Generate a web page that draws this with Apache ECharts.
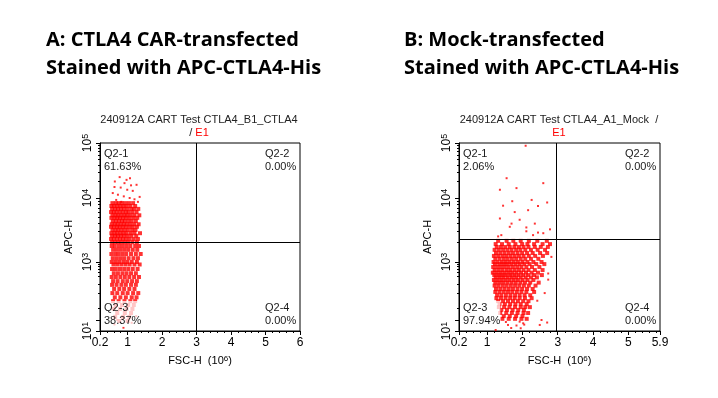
<!DOCTYPE html>
<html>
<head>
<meta charset="utf-8">
<script src="https://cdn.jsdelivr.net/npm/echarts@6/dist/echarts.min.js"></script>
<style>
html, body { margin: 0; padding: 0; background: #fff; }
#chart { width: 718px; height: 398px; }
</style>
</head>
<body>
<div id="chart"></div>
<script>
// FSC-H tick labels (10^6)
var fscTicksA = [0.2, 1, 2, 3, 4, 5, 6];
var fscTicksB = [0.2, 1, 2, 3, 4, 5, 5.9];
// APC-H decades (log10) : labelled ones and all major ticks
var apcLabelled = [1, 3, 4, 5];
var apcMajor = [1, 2, 3, 4, 5];

// quadrant percentages Q2-1, Q2-2, Q2-3, Q2-4
var quadA = ['61.63%', '0.00%', '38.37%', '0.00%'];
var quadB = ['2.06%', '0.00%', '97.94%', '0.00%'];

// quadrant gates [FSC-H, log10 APC-H]
var gateA = [2.99, 3.29];
var gateB = [2.97, 3.35];

// CTLA4 CAR cells, scattered ones [FSC-H, log10 APC-H]
var ctla4Sparse = [[0.77,4.38],[1.07,4.36],[0.97,4.33],[0.63,4.30],[0.91,4.27],[1.10,4.23],[1.26,4.24],
  [0.62,4.20],[0.80,4.19],[0.99,4.15],[1.15,4.13],[0.57,4.09],[0.72,4.06],[0.89,4.03],[1.06,4.00],
  [1.35,4.02],[1.20,3.98],[0.67,3.97],[0.82,3.94],[1.30,3.94],[0.70,2.0],[1.25,2.1],[0.62,1.6],
  [1.12,1.75],[0.88,1.3]];
// CTLA4 CAR cells by row [log10 APC-H, [FSC-H ...]]
var ctla4Rows = [
  [3.92, [0.56,0.66,0.74,0.83,0.93,1.04,1.16]],
  [3.875,[0.53,0.61,0.70,0.79,0.88,0.97,1.08,1.22]],
  [3.83, [0.55,0.64,0.72,0.81,0.90,1.00,1.11,1.19,1.31]],
  [3.78, [0.52,0.60,0.68,0.77,0.86,0.95,1.03,1.14,1.26]],
  [3.73, [0.56,0.65,0.73,0.82,0.91,0.99,1.09,1.20,1.34]],
  [3.69, [0.53,0.62,0.70,0.78,0.87,0.96,1.06,1.17,1.28]],
  [3.64, [0.57,0.66,0.75,0.84,0.92,1.02,1.12,1.24]],
  [3.59, [0.54,0.63,0.71,0.80,0.89,0.98,1.08,1.19,1.32]],
  [3.55, [0.52,0.60,0.69,0.77,0.86,0.95,1.05,1.15,1.27]],
  [3.50, [0.56,0.65,0.73,0.82,0.91,1.01,1.13,1.23]],
  [3.45, [0.53,0.62,0.70,0.79,0.88,0.97,1.09,1.20,1.36]],
  [3.41, [0.55,0.64,0.72,0.81,0.90,1.00,1.11,1.25]],
  [3.36, [0.52,0.60,0.69,0.78,0.87,0.96,1.06,1.18,1.30]],
  [3.31, [0.55,0.64,0.73,0.82,0.92,1.02,1.14,1.27]],
  [3.25, [0.54,0.63,0.75,0.86,0.97,1.08,1.22,1.33]],
  [3.19, [0.58,0.69,0.80,0.91,1.02,1.15,1.28]],
  [3.125,[0.53,0.64,0.74,0.85,0.96,1.10,1.24,1.38]],
  [3.06, [0.57,0.68,0.79,0.90,1.03,1.17,1.30]],
  [3.00, [0.54,0.65,0.76,0.88,0.99,1.12,1.27]],
  [2.945,[0.59,0.70,0.82,0.94,1.06,1.20,1.35]],
  [2.845,[0.55,0.66,0.78,0.90,1.02,1.15,1.29]],
  [2.765,[0.60,0.72,0.85,0.97,1.10,1.24]],
  [2.695,[0.54,0.66,0.79,0.92,1.05,1.19,1.33]],
  [2.64, [0.58,0.71,0.86,0.99,1.13,1.27]],
  [2.59, [0.55,0.68,0.82,0.95,1.10,1.24]],
  [2.535,[0.61,0.76,0.90,1.05,1.20]],
  [2.48, [0.56,0.70,0.86,1.00,1.16,1.31]],
  [2.43, [0.63,0.79,0.95,1.12,1.26]],
  [2.385,[0.58,0.74,0.91,1.08,1.22]],
  [2.34, [0.66,0.84,1.02,1.18]],
  [2.285,[0.60,0.78,0.97,1.14]],
  [2.18, [0.70,0.92,1.10]],
  [2.08, [0.64,0.87,1.05]],
  [1.91, [0.76,1.00]]
];

// Mock cells, scattered ones [FSC-H, log10 APC-H]
var mockSparse = [[2.09,4.95],[1.55,4.36],[2.59,4.27],[1.83,4.18],[1.36,4.15],[1.71,3.95],[2.26,3.97],
  [2.70,3.93],[1.45,3.88],[2.44,3.875],[2.16,3.81],[1.78,3.78],[1.36,3.68],[1.92,3.66],[1.69,3.60],
  [2.35,3.60],[1.64,3.55],[2.11,3.54],[2.78,3.51],[2.11,3.48],[2.44,3.46],[2.59,3.45],[1.40,3.42],
  [2.30,3.42],[1.31,3.40],[2.82,3.08],[2.73,2.76],[2.73,2.66],[2.63,2.48],[2.42,2.39],[2.54,2.0],
  [2.02,1.70],[2.70,1.77],[2.49,1.55],[1.24,1.09],[1.59,1.55],[1.83,1.50],[2.05,1.58],[1.68,1.27],
  [1.95,1.25],[1.53,1.82],[1.92,1.85]];
// Mock cells by row [log10 APC-H, [FSC-H ...]]
var mockRows = [
  [3.33, [1.31,1.55,1.74,1.95,2.18,2.42,2.69]],
  [3.28, [1.24,1.42,1.61,1.80,1.99,2.14,2.33,2.57,2.78]],
  [3.235,[1.27,1.39,1.51,1.64,1.77,1.90,2.03,2.17,2.35,2.52,2.72]],
  [3.19, [1.21,1.33,1.45,1.57,1.69,1.82,1.94,2.08,2.24,2.43,2.64]],
  [3.14, [1.25,1.37,1.49,1.61,1.73,1.86,1.99,2.13,2.29,2.50,2.70]],
  [3.095,[1.19,1.31,1.43,1.54,1.66,1.78,1.90,2.03,2.18,2.36,2.58]],
  [3.05, [1.23,1.35,1.47,1.58,1.70,1.82,1.95,2.08,2.24,2.45]],
  [3.00, [1.18,1.29,1.41,1.52,1.63,1.75,1.87,2.00,2.14,2.31,2.54]],
  [2.954,[1.22,1.34,1.45,1.56,1.68,1.80,1.92,2.05,2.20,2.39,2.62]],
  [2.89, [1.17,1.28,1.39,1.50,1.61,1.73,1.85,1.97,2.11,2.27,2.48]],
  [2.825,[1.21,1.32,1.43,1.55,1.66,1.78,1.90,2.03,2.17,2.35,2.57]],
  [2.775,[1.16,1.27,1.38,1.49,1.60,1.71,1.83,1.96,2.10,2.26,2.44]],
  [2.73, [1.20,1.31,1.42,1.53,1.65,1.77,1.89,2.02,2.16,2.33,2.55]],
  [2.69, [1.24,1.35,1.46,1.58,1.70,1.82,1.95,2.09,2.24,2.41]],
  [2.655,[1.19,1.30,1.41,1.52,1.63,1.75,1.87,2.00,2.14,2.31]],
  [2.62, [1.23,1.34,1.45,1.57,1.69,1.81,1.94,2.07,2.22,2.46]],
  [2.58, [1.21,1.32,1.44,1.55,1.67,1.79,1.91,2.04,2.18,2.37]],
  [2.535,[1.25,1.37,1.49,1.61,1.73,1.86,1.99,2.13,2.29]],
  [2.495,[1.23,1.35,1.47,1.59,1.71,1.84,1.97,2.11,2.33]],
  [2.455,[1.28,1.40,1.53,1.66,1.79,1.92,2.06,2.22]],
  [2.42, [1.26,1.39,1.52,1.65,1.78,1.92,2.07,2.26]],
  [2.385,[1.31,1.45,1.59,1.73,1.87,2.02,2.17]],
  [2.35, [1.35,1.50,1.65,1.80,1.95,2.12]],
  [2.315,[1.33,1.48,1.63,1.79,1.95,2.08,2.21]],
  [2.26, [1.40,1.56,1.72,1.88,2.04]],
  [2.18, [1.37,1.54,1.70,1.86,2.03,2.16]],
  [2.10, [1.47,1.64,1.82,2.00]],
  [2.03, [1.43,1.61,1.79,1.97,2.12]]
];

// biexponential APC-H display
var biexLog = [1, 2, 2.301, 2.477, 2.699, 2.845, 3, 4, 5];
var biexPos = [0, 0.0585, 0.1207, 0.2005, 0.2888, 0.3298, 0.367, 0.7074, 1];
function biex(l) {
  for (var i = 1; i < biexLog.length; i++) {
    if (l <= biexLog[i]) {
      var t = (l - biexLog[i - 1]) / (biexLog[i] - biexLog[i - 1]);
      return Math.max(0, biexPos[i - 1] + t * (biexPos[i] - biexPos[i - 1]));
    }
  }
  return 1;
}

function sparseCells(sparse) {
  return sparse.map(function (p) { return [p[0], biex(p[1])]; });
}
function rowCells(rows) {
  var out = [];
  rows.forEach(function (r) {
    r[1].forEach(function (x) { out.push([x, biex(r[0])]); });
  });
  return out;
}

var apcMinor = [];
[2, 3, 4].forEach(function (d) {
  for (var k = 2; k <= 9; k++) apcMinor.push(biex(d + Math.log10(k)));
});
function fscMinor(max) {
  var out = [];
  for (var i = 1; i * 0.2 <= max + 1e-9; i++) out.push(+(i * 0.2).toFixed(1));
  return out;
}

var FONT = 'Liberation Sans';
var supRich = { b: { fontSize: 12, fontFamily: FONT, color: '#000', lineHeight: 14 },
                s: { fontSize: 9, fontFamily: FONT, color: '#000', verticalAlign: 'top', lineHeight: 14 } };

function xAxes(grid, ticks, max) {
  return [{
    type: 'value', gridIndex: grid, min: 0.2, max: max, position: 'bottom',
    axisLine: { show: true, lineStyle: { color: '#000', width: 1 } },
    axisTick: { show: true, length: 4, customValues: ticks, lineStyle: { color: '#000' } },
    axisLabel: { customValues: ticks, fontSize: 12, color: '#000', fontFamily: FONT, margin: 6,
      formatter: function (v) { return String(v); } },
    splitLine: { show: false },
    name: 'FSC-H  (10{s|6})', nameLocation: 'middle', nameGap: 24,
    nameTextStyle: { fontSize: 11, color: '#000', fontFamily: FONT,
      rich: { s: { fontSize: 8, fontFamily: FONT, color: '#000', verticalAlign: 'top' } } }
  }, {
    type: 'value', gridIndex: grid, min: 0.2, max: max, position: 'bottom',
    axisLine: { show: false },
    axisTick: { show: true, length: 2, customValues: fscMinor(max), lineStyle: { color: '#000' } },
    axisLabel: { show: false }, splitLine: { show: false }
  }];
}

function yAxes(grid) {
  return [{
    type: 'value', gridIndex: grid, min: 0, max: 1, position: 'left',
    axisLine: { show: true, lineStyle: { color: '#000', width: 1 } },
    axisTick: { show: true, length: 4, customValues: apcMajor.map(biex), lineStyle: { color: '#000' } },
    axisLabel: { customValues: apcLabelled.map(biex), rotate: 90, margin: 5,
      formatter: function (v) {
        var d = apcLabelled.filter(function (k) { return Math.abs(biex(k) - v) < 1e-6; })[0];
        return '{b|10}{s|' + d + '}';
      }, rich: supRich },
    splitLine: { show: false },
    name: 'APC-H', nameLocation: 'middle', nameGap: 26, nameRotate: 90,
    nameTextStyle: { fontSize: 11, color: '#000', fontFamily: FONT }
  }, {
    type: 'value', gridIndex: grid, min: 0, max: 1, position: 'left',
    axisLine: { show: false },
    axisTick: { show: true, length: 2, customValues: apcMinor, lineStyle: { color: '#000' } },
    axisLabel: { show: false }, splitLine: { show: false }
  }];
}

function quadLabel(pos, text) {
  var right = pos.indexOf('Right') > 0;
  return {
    show: true, position: pos, distance: 4,
    formatter: '{a|' + text.replace('\n', '}\n{a|') + '}',
    backgroundColor: 'rgba(255,255,255,0.72)',
    rich: { a: { fontSize: 11, lineHeight: 13, color: '#1a1a1a', fontFamily: FONT,
      width: right ? 31 : undefined, align: 'left' } }
  };
}

function plotSeries(name, xi, rows, sparse, gate, quad, xmax) {
  var gy = biex(gate[1]);
  return [{
    name: name, type: 'scatter', xAxisIndex: xi, yAxisIndex: xi,
    data: rowCells(rows), symbol: 'rect', symbolSize: 4,
    itemStyle: { color: '#ff0000' }, silent: true,
    markLine: {
      silent: true, symbol: 'none', label: { show: false },
      lineStyle: { color: '#000', width: 1, type: 'solid' },
      data: [{ xAxis: gate[0] }, { yAxis: gy }]
    },
    markArea: {
      silent: true, z: 6, itemStyle: { color: 'rgba(0,0,0,0)' },
      data: [
        [{ xAxis: 0.2, yAxis: gy, label: quadLabel('insideTopLeft', 'Q2-1\n' + quad[0]) }, { xAxis: gate[0], yAxis: 1 }],
        [{ xAxis: gate[0], yAxis: gy, label: quadLabel('insideTopRight', 'Q2-2\n' + quad[1]) }, { xAxis: xmax, yAxis: 1 }],
        [{ xAxis: 0.2, yAxis: 0, label: quadLabel('insideBottomLeft', 'Q2-3\n' + quad[2]) }, { xAxis: gate[0], yAxis: gy }],
        [{ xAxis: gate[0], yAxis: 0, label: quadLabel('insideBottomRight', 'Q2-4\n' + quad[3]) }, { xAxis: xmax, yAxis: gy }]
      ]
    }
  }, {
    name: name + ' sparse', type: 'scatter', xAxisIndex: xi, yAxisIndex: xi,
    data: sparseCells(sparse), symbol: 'rect', symbolSize: 2,
    itemStyle: { color: '#ff0000' }, silent: true
  }];
}

var bigTitle = { fontSize: 20, fontWeight: 'bold', fontFamily: 'Open Sans', color: '#000', lineHeight: 28 };
var smallTitle = { fontSize: 11, fontWeight: 'normal', fontFamily: FONT, color: '#222', lineHeight: 13,
  rich: { r: { fontSize: 11, fontWeight: 'normal', fontFamily: FONT, color: '#ff0000' } } };

var chart = echarts.init(document.getElementById('chart'));
chart.setOption({
  animation: false,
  backgroundColor: '#fff',
  title: [
    { text: 'A: CTLA4 CAR-transfected\nStained with APC-CTLA4-His', left: 46, top: 26, padding: 0, textStyle: bigTitle },
    { text: 'B: Mock-transfected\nStained with APC-CTLA4-His', left: 404, top: 26, padding: 0, textStyle: bigTitle },
    { text: '240912A CART Test CTLA4_B1_CTLA4\n/ {r|E1}', left: 199, top: 113, padding: 0,
      textAlign: 'center', textStyle: smallTitle },
    { text: '240912A CART Test CTLA4_A1_Mock  /\n{r|E1}', left: 559, top: 113, padding: 0,
      textAlign: 'center', textStyle: smallTitle }
  ],
  grid: [
    { left: 100, top: 143, width: 200, height: 188, show: true, borderColor: '#000', borderWidth: 1, containLabel: false },
    { left: 459, top: 143, width: 201, height: 188, show: true, borderColor: '#000', borderWidth: 1, containLabel: false }
  ],
  xAxis: xAxes(0, fscTicksA, 6).concat(xAxes(1, fscTicksB, 5.9)),
  yAxis: yAxes(0).concat(yAxes(1)),
  series: plotSeries('CTLA4 CAR', 0, ctla4Rows, ctla4Sparse, gateA, quadA, 6)
    .concat(plotSeries('Mock', 2, mockRows, mockSparse, gateB, quadB, 5.9))
});
</script>
</body>
</html>
